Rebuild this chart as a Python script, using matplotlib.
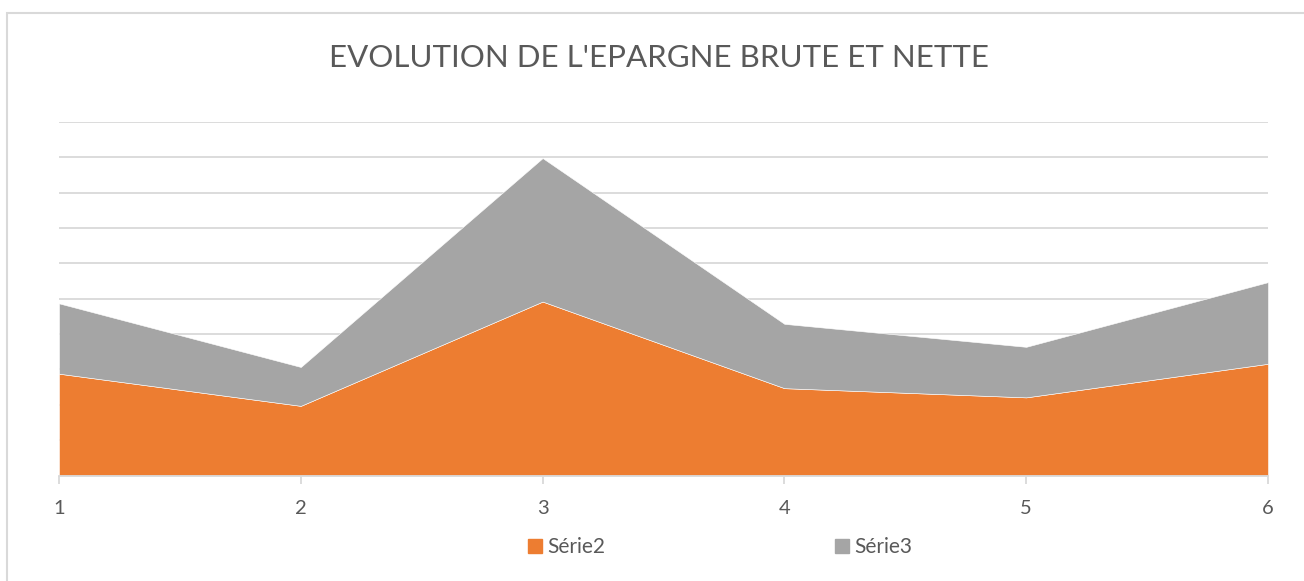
import matplotlib
matplotlib.use("Agg")
import matplotlib.pyplot as plt
from matplotlib.patches import Rectangle, Patch

# values (stacked area, axis units 0-10)
periods = [1, 2, 3, 4, 5, 6]
serie2 = [2.88, 1.97, 4.92, 2.47, 2.21, 3.16]
serie3 = [1.99, 1.10, 4.06, 1.82, 1.43, 2.31]
labels = ["Série2", "Série3"]
title = "EVOLUTION DE L'EPARGNE BRUTE ET NETTE"

ORANGE = "#ED7D31"
GREY = "#A5A5A5"
TXT = "#595959"
GRID = "#D9D9D9"

plt.rcParams["font.family"] = ["Lato", "DejaVu Sans"]

W, H = 1304, 581
fig = plt.figure(figsize=(W / 100, H / 100), dpi=100)

# chart frame (cut off on the right and bottom)
fig.patches.append(Rectangle((7 / W, -0.1), 1.2, (H - 13) / H + 0.1, transform=fig.transFigure,
                             fill=False, edgecolor=GRID, lw=1.5))

ax = fig.add_axes([59 / W, (H - 475.5) / H, (1268 - 59) / W, (475.5 - 122) / H])
ax.stackplot(periods, serie2, serie3, colors=[ORANGE, GREY], labels=labels,
             edgecolor="white", linewidth=0.4, zorder=2)
ax.set_xlim(1, 6)
ax.set_ylim(0, 10)
ax.set_yticks(range(1, 11))
ax.yaxis.grid(True, color=GRID, lw=1.3, zorder=0)
ax.set_axisbelow(True)
ax.tick_params(axis="y", left=False, labelleft=False)
ax.set_xticks(periods)
ax.tick_params(axis="x", colors=GRID, length=6, width=1.3, labelcolor=TXT, labelsize=14.5, pad=12)
for s in ["top", "left", "right"]:
    ax.spines[s].set_visible(False)
ax.spines["bottom"].set_color(GRID)
ax.spines["bottom"].set_linewidth(1.3)
ax.spines["bottom"].set_zorder(3)

fig.text(659 / W, 1 - 58 / H, title, ha="center", va="center", fontsize=22.5, color=TXT)

handles = [Patch(color=ORANGE), Patch(color=GREY)]
leg = fig.legend(handles, labels, loc="center", bbox_to_anchor=(720 / W, 1 - 547 / H), ncol=2,
                 frameon=False, fontsize=15, handlelength=0.68, handleheight=0.68,
                 handletextpad=0.25, columnspacing=11.0, labelcolor=TXT)

fig.savefig("out.png", dpi=100)
